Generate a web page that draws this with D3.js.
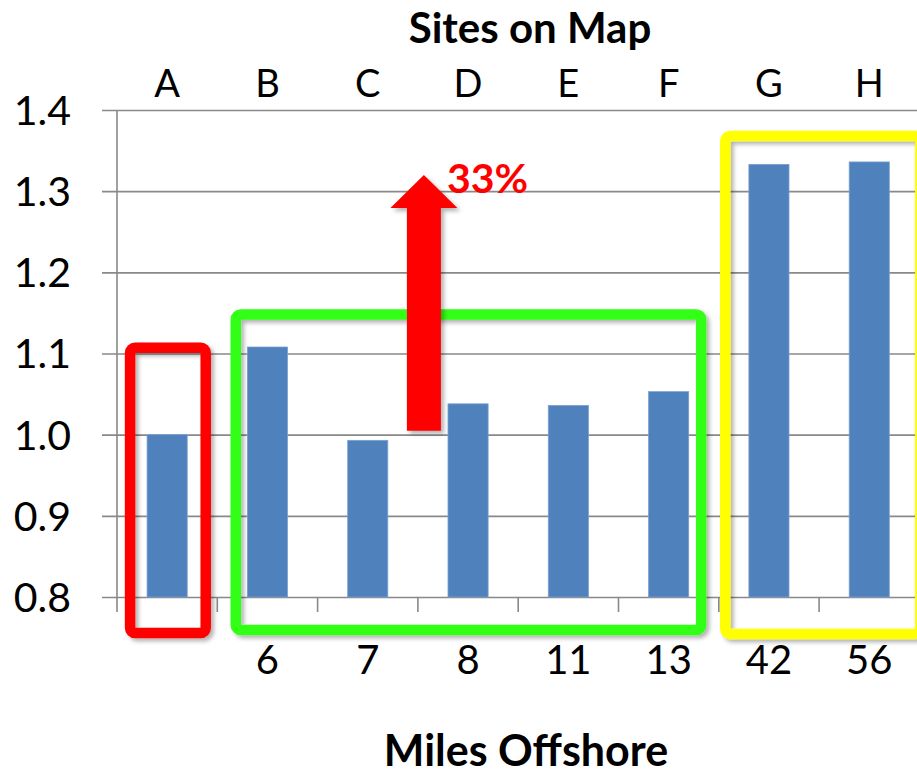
<!DOCTYPE html>
<html>
<head>
<meta charset="utf-8">
<script src="https://cdn.jsdelivr.net/npm/d3@7"></script>
<style>
  html, body { margin: 0; padding: 0; background: #fff; }
  svg { display: block; }
  text { font-family: Lato, "Open Sans", sans-serif; fill: #000; }
</style>
</head>
<body>
<svg id="chart" width="917" height="779"></svg>
<script>
// Sites on the map and the relative value measured at each
const categories = ["A", "B", "C", "D", "E", "F", "G", "H"];
const ratios = [1.000, 1.108, 0.993, 1.038, 1.036, 1.053, 1.333, 1.336];
// Distance offshore for each site (site A has no label)
const milesOffshore = ["", "6", "7", "8", "11", "13", "42", "56"];
const yTicks = [0.8, 0.9, 1.0, 1.1, 1.2, 1.3, 1.4];
const yTickLabels = ["0.8", "0.9", "1.0", "1.1", "1.2", "1.3", "1.4"];
// Site groupings highlighted with outlines
const nearshoreGroup = ["A"];
const midGroup = ["B", "C", "D", "E", "F"];
const offshoreGroup = ["G", "H"];
// Increase from the nearshore reference to the far offshore sites
const increaseFrom = 1.0;
const increaseTo = 1.32;
const increaseLabel = "33%";
const topTitle = "Sites on Map";
const bottomTitle = "Miles Offshore";

const svg = d3.select("#chart");

const plot = { left: 117, right: 919.4, top: 110, bottom: 597 };

const x = d3.scaleBand()
  .domain(categories)
  .range([plot.left, plot.right])
  .paddingInner(0.6)
  .paddingOuter(0.3);
const step = x.step();
const bandStart = c => plot.left + categories.indexOf(c) * step;

const y = d3.scaleLinear().domain([0.8, 1.4]).range([plot.bottom, plot.top]);

// Drop shadow used by the highlight outlines and the arrow
const defs = svg.append("defs");
const shadow = defs.append("filter").attr("id", "shadow")
  .attr("x", "-20%").attr("y", "-20%").attr("width", "140%").attr("height", "140%");
shadow.append("feDropShadow")
  .attr("dx", 3).attr("dy", 3).attr("stdDeviation", 2)
  .attr("flood-color", "#000").attr("flood-opacity", 0.3);

const gridColor = "#898989";

// Horizontal gridlines with short outward ticks on the left
const yAxis = d3.axisLeft(y)
  .tickValues(yTicks)
  .tickFormat((d, i) => yTickLabels[i])
  .tickSize(-(917 - plot.left + 10))
  .tickPadding(0);
const gy = svg.append("g").attr("transform", `translate(${plot.left},0)`).call(yAxis);
gy.select(".domain").remove();
gy.selectAll(".tick line")
  .attr("x1", -15)
  .attr("stroke", gridColor).attr("stroke-width", 1.6);
gy.selectAll(".tick text")
  .attr("x", 71 - plot.left)
  .attr("dy", "0.35em")
  .attr("text-anchor", "end")
  .style("font-family", "Lato, sans-serif")
  .style("font-size", "41px")
  .attr("fill", "#000");

// Vertical axis line
svg.append("line")
  .attr("x1", plot.left).attr("x2", plot.left)
  .attr("y1", y(1.4)).attr("y2", plot.bottom)
  .attr("stroke", gridColor).attr("stroke-width", 1.6);

// Category boundary ticks below the baseline
const boundaries = d3.range(categories.length + 1).map(i => plot.left + i * step);
svg.append("g").selectAll("line")
  .data(boundaries.filter(b => b < 917))
  .join("line")
  .attr("x1", d => d).attr("x2", d => d)
  .attr("y1", plot.bottom).attr("y2", plot.bottom + 15)
  .attr("stroke", gridColor).attr("stroke-width", 1.6);

// Bars
svg.append("g").selectAll("rect")
  .data(categories.map((c, i) => ({ c, v: ratios[i] })))
  .join("rect")
  .attr("x", d => x(d.c))
  .attr("width", x.bandwidth())
  .attr("y", d => y(d.v))
  .attr("height", d => y(0.8) - y(d.v))
  .attr("fill", "#4f81bd")
  .attr("stroke", "#7aa0d0")
  .attr("stroke-width", 0.8);

// Group outlines
const outlines = [
  { members: nearshoreGroup, color: "#ff0000", padL: 17, padR: 18.5, top: 1.107, below: 36 },
  { members: midGroup, color: "#33ff14", padL: 11.6, padR: 12.5, top: 1.148, below: 33 },
  { members: offshoreGroup, color: "#ffff00", padL: 23.6, padR: 31, top: 1.368, below: 37 }
];
svg.append("g").selectAll("rect")
  .data(outlines)
  .join("rect")
  .attr("x", d => x(d.members[0]) - d.padL)
  .attr("y", d => y(d.top))
  .attr("width", d => (x(d.members[d.members.length - 1]) + x.bandwidth() + d.padR) - (x(d.members[0]) - d.padL))
  .attr("height", d => (plot.bottom + d.below) - y(d.top))
  .attr("rx", 5).attr("ry", 5)
  .attr("fill", "none")
  .attr("stroke", d => d.color)
  .attr("stroke-width", 10.5)
  .attr("filter", "url(#shadow)");

// Increase arrow between C and D
const arrowX = bandStart("D") + 6;
const shaftHalf = 17, headHalf = 33.5, headLen = 33;
const yTip = y(increaseTo), yBase = y(increaseFrom) - 4;
const arrowPts = [
  [arrowX - shaftHalf, yBase],
  [arrowX - shaftHalf, yTip + headLen],
  [arrowX - headHalf, yTip + headLen],
  [arrowX, yTip],
  [arrowX + headHalf, yTip + headLen],
  [arrowX + shaftHalf, yTip + headLen],
  [arrowX + shaftHalf, yBase]
];
svg.append("path")
  .attr("d", d3.line()(arrowPts) + "Z")
  .attr("fill", "#ff0000")
  .attr("filter", "url(#shadow)");

svg.append("text")
  .attr("x", arrowX + 23)
  .attr("y", yTip + 18)
  .style("font-weight", 700)
  .style("font-size", "41px")
  .style("fill", "#ff0000")
  .text(increaseLabel);

// Site letters across the top
svg.append("g").selectAll("text")
  .data(categories)
  .join("text")
  .attr("x", d => x(d) + x.bandwidth() / 2)
  .attr("y", 97)
  .attr("text-anchor", "middle")
  .style("font-size", "38px")
  .text(d => d);

// Distance labels across the bottom
svg.append("g").selectAll("text")
  .data(categories.map((c, i) => ({ c, t: milesOffshore[i] })))
  .join("text")
  .attr("x", d => x(d.c) + x.bandwidth() / 2)
  .attr("y", 674)
  .attr("text-anchor", "middle")
  .style("font-size", "40px")
  .text(d => d.t);

// Titles
svg.append("text")
  .attr("x", 530).attr("y", 43)
  .attr("text-anchor", "middle")
  .style("font-weight", 700)
  .style("font-size", "42px")
  .text(topTitle);

svg.append("text")
  .attr("x", 526).attr("y", 766)
  .attr("text-anchor", "middle")
  .style("font-weight", 700)
  .style("font-size", "43px")
  .text(bottomTitle);
</script>
</body>
</html>
